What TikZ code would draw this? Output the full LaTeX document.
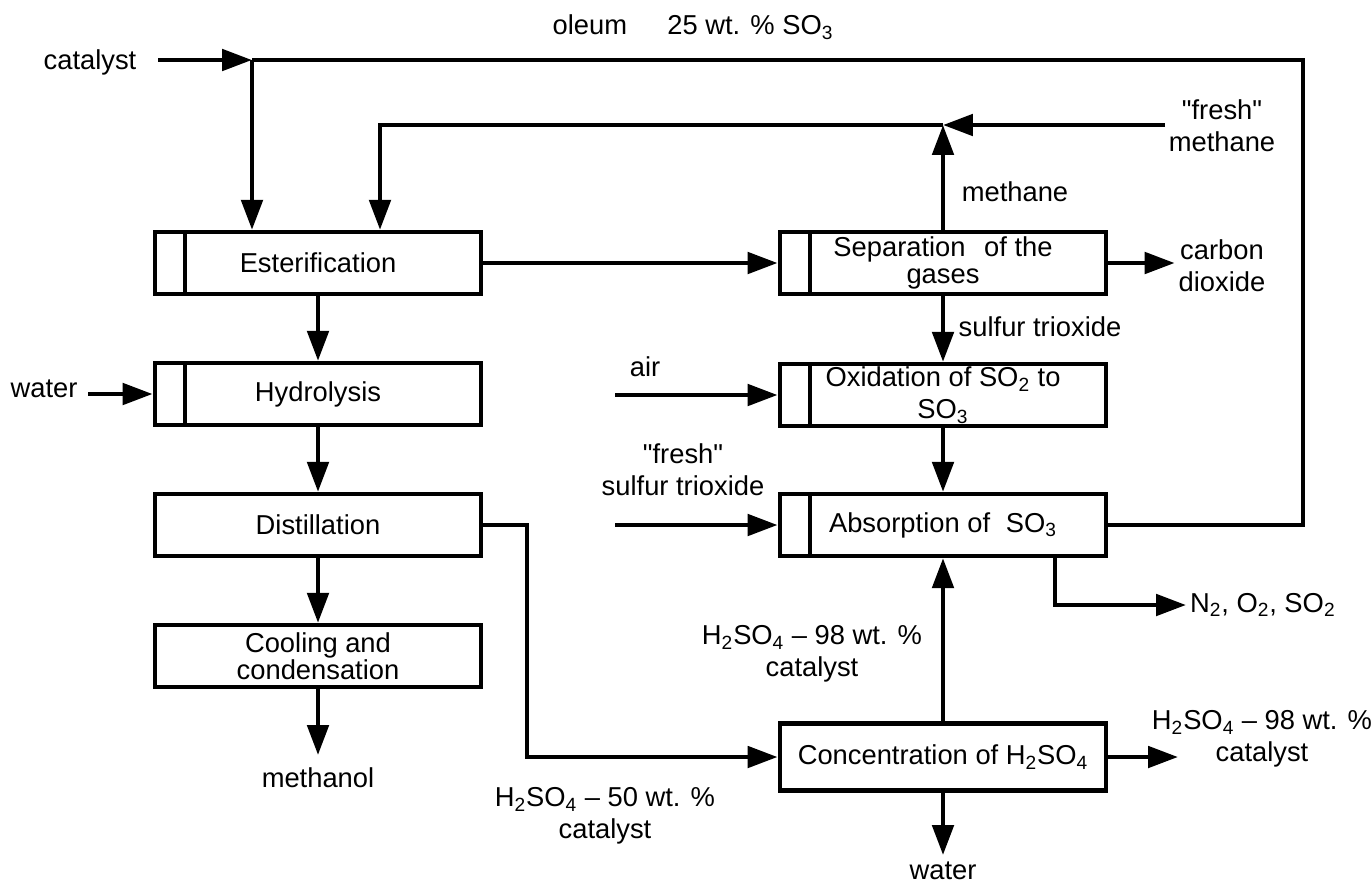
\documentclass[tikz,border=0pt]{standalone}
\usepackage{fontspec}
\setmainfont{Liberation Sans}
\usetikzlibrary{arrows.meta,positioning}
\tikzset{
    every picture/.style={
        line width=2.6pt,
        >={Triangle[length=17pt,width=12pt]}
    }
}
\begin{document}
\begin{tikzpicture}[x=0.567pt,y=-0.567pt,font=\fontsize{15.5}{18}\selectfont,
    procbox/.style={draw,rectangle,minimum width=185pt,minimum height=35pt,align=center,inner sep=0pt},
    feedbox/.style={procbox,path picture={\draw ([xshift=17pt]path picture bounding box.north west) -- ([xshift=17pt]path picture bounding box.south west);}},
    lbl/.style={align=center,inner sep=1pt}
]
  \useasboundingbox (0,0) rectangle (1372,886);

  % methanol line
  \node[feedbox] (ester) at (318,263) {Esterification};
  \node[feedbox] (hydro) at (318,394) {Hydrolysis};
  \node[procbox] (distil) at (318,525) {Distillation};
  \node[procbox] (cool) at (318,656) {Cooling and\\[-3pt]condensation};

  % sulfur line
  \node[feedbox] (sep) at (943,263) {Separation\hspace{0.4em} of the\\[-3pt]gases};
  \node[feedbox] (oxid) at (943,395) {Oxidation of SO\textsubscript{2} to\\SO\textsubscript{3}};
  \node[feedbox] (absorp) at (943,525) {Absorption of\hspace{0.3em} SO\textsubscript{3}};
  \node[procbox,minimum height=38pt] (conc) at (943,757) {Concentration of H\textsubscript{2}SO\textsubscript{4}};

  % stream labels
  \node[lbl] (lcat) at (90,62) {catalyst};
  \node[lbl] (loleum) at (693,27) {oleum\hspace{1.2em} 25 wt. \% SO\textsubscript{3}};
  \node[lbl] (lfmeth) at (1222,126) {\textquotedbl fresh\textquotedbl\\methane};
  \node[lbl] (lmeth) at (1015,192) {methane};
  \node[lbl] (lco2) at (1222,266) {carbon\\dioxide};
  \node[lbl] (lso3) at (1040,327) {sulfur trioxide};
  \node[lbl] (lair) at (645,367) {air};
  \node[lbl] (lfso3) at (683,470) {\textquotedbl fresh\textquotedbl\\sulfur trioxide};
  \node[lbl,anchor=west] (lgas) at (1186,605) {N\textsubscript{2}, O\textsubscript{2}, SO\textsubscript{2}};
  \node[lbl] (lh98a) at (812,654) {H\textsubscript{2}SO\textsubscript{4} -- 98 wt. \%\\catalyst};
  \node[lbl] (lh98b) at (1262,739) {H\textsubscript{2}SO\textsubscript{4} -- 98 wt. \%\\catalyst};
  \node[lbl] (lh50) at (605,816) {H\textsubscript{2}SO\textsubscript{4} -- 50 wt. \%\\catalyst};
  \node[lbl] (lwater2) at (943,871) {water};
  \node[lbl] (lmethanol) at (318,778) {methanol};
  \node[lbl] (lwater1) at (44,389) {water};

  % free ends and bends
  \coordinate (catin) at (158,60);
  \coordinate (cj) at (252,60);
  \coordinate (oturn) at (1303,60);
  \coordinate (mj) at (943,125);
  \coordinate (mturn) at (380,125);
  \coordinate (fmin) at (1165,125);
  \coordinate (airin) at (615,395);
  \coordinate (fsin) at (615,525);
  \coordinate (gturn) at (1055,605);
  \coordinate (dturn) at (527,525);
  \coordinate (hout) at (1178,757);
  \coordinate (wout) at (943,855);
  \coordinate (mout) at (318,755);
  \coordinate (win) at (88,394);

  % catalyst feed and oleum recycle
  \draw[->] (catin) -- (cj);
  \draw[->] (cj) -- (cj |- ester.north);
  \draw (absorp.east) -| (oturn) -- (cj);

  % methane recycle
  \draw[->] (sep.north) -- (mj);
  \draw[->] (fmin) -- (mj);
  \draw[->] (mj) -- (mturn) -- (mturn |- ester.north);

  % main connections
  \draw[->] (ester) -- (sep);
  \draw[->] (sep) -- (sep -| lco2.west);
  \draw[->] (sep) -- (oxid);
  \draw[->] (oxid) -- (absorp);
  \draw[->] (airin) -- (oxid);
  \draw[->] (fsin) -- (absorp);
  \draw[->] (absorp.south -| gturn) -- (gturn) -- (lgas.west);
  \draw[->] (conc) -- (absorp);
  \draw[->] (conc) -- (hout);
  \draw[->] (conc) -- (wout);
  \draw[->] (distil.east) -- (dturn) |- (conc.west);

  \draw[->] (ester) -- (hydro);
  \draw[->] (hydro) -- (distil);
  \draw[->] (distil) -- (cool);
  \draw[->] (cool) -- (mout);
  \draw[->] (win) -- (hydro);
\end{tikzpicture}
\end{document}
